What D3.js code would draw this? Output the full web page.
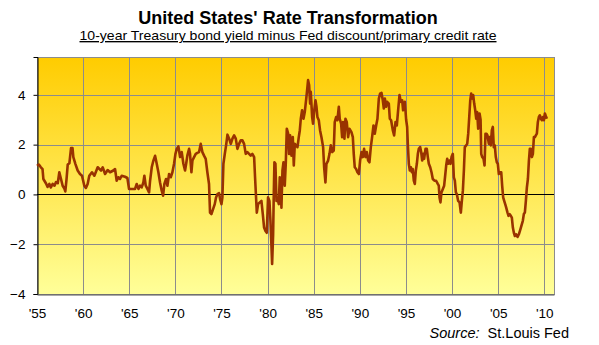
<!DOCTYPE html>
<html>
<head>
<meta charset="utf-8">
<script src="https://cdn.jsdelivr.net/npm/d3@7"></script>
<style>
	body { margin: 0; background: #fff; }
	text { font-family: "Liberation Sans", Arial, sans-serif; }
</style>
</head>
<body>
<svg id="chart" width="599" height="345"></svg>
<script>
// Spread: 10-year Treasury yield minus Fed discount / primary credit rate
const years = [
	1955.0, 1955.2, 1955.4, 1955.6, 1955.69, 1955.98, 1956.15, 1956.34, 1956.5, 1956.7, 1956.9,
	1957.06, 1957.25, 1957.42, 1957.6, 1957.78, 1957.95, 1958.07, 1958.2, 1958.33, 1958.51, 1958.69,
	1958.85, 1958.94, 1959.16, 1959.41, 1959.66, 1959.88, 1960.13, 1960.3, 1960.49, 1960.67, 1960.96,
	1961.22, 1961.58, 1961.94, 1962.12, 1962.38, 1962.66, 1962.92,
	1963.28, 1963.46, 1963.64, 1963.82, 1964.0, 1964.18, 1964.54, 1964.8, 1964.98, 1965.27, 1965.63,
	1965.81, 1966.0, 1966.17, 1966.35, 1966.53, 1966.64, 1966.79, 1966.97, 1967.15, 1967.26, 1967.44,
	1967.62, 1967.8, 1967.98, 1968.16, 1968.34, 1968.52, 1968.67, 1968.81, 1968.99, 1969.14, 1969.32,
	1969.5, 1969.68, 1969.86, 1970.01, 1970.15, 1970.33, 1970.51, 1970.69, 1970.87,
	1971.05, 1971.2, 1971.3, 1971.49, 1971.59, 1971.74, 1971.85, 1972.03, 1972.21, 1972.39, 1972.57,
	1972.75, 1972.93, 1973.11, 1973.29, 1973.47, 1973.65, 1973.76, 1973.91, 1974.09, 1974.27, 1974.41,
	1974.56, 1974.74, 1974.85, 1975.0, 1975.1, 1975.21, 1975.36, 1975.5, 1975.65, 1975.83, 1976.01,
	1976.19, 1976.37, 1976.55, 1976.73, 1976.91, 1977.09, 1977.27, 1977.45, 1977.63, 1977.81, 1977.99,
	1978.17, 1978.35, 1978.54, 1978.64, 1978.83, 1978.97,
	1979.15, 1979.33, 1979.48, 1979.62, 1979.77, 1979.91, 1980.05, 1980.2, 1980.31, 1980.41, 1980.49,
	1980.6, 1980.67, 1980.74, 1980.85, 1980.96, 1981.07, 1981.21, 1981.32, 1981.43, 1981.5, 1981.61,
	1981.72, 1981.86, 1981.97, 1982.08, 1982.23, 1982.33, 1982.44, 1982.59, 1982.73, 1982.84, 1982.95,
	1983.09, 1983.24, 1983.38, 1983.49, 1983.6, 1983.74, 1983.89, 1984.03, 1984.21, 1984.32, 1984.39,
	1984.5, 1984.61, 1984.68, 1984.83, 1984.93, 1985.04, 1985.19, 1985.3, 1985.4, 1985.55, 1985.69,
	1985.84, 1986.02, 1986.13, 1986.27, 1986.38, 1986.56, 1986.71, 1986.85, 1987.0,
	1987.17, 1987.28, 1987.43, 1987.57, 1987.72, 1987.82, 1987.97, 1988.08, 1988.18, 1988.33, 1988.44,
	1988.58, 1988.73, 1988.87, 1989.09, 1989.24, 1989.34, 1989.45, 1989.6, 1989.74, 1989.89, 1990.03,
	1990.18, 1990.32, 1990.46, 1990.61, 1990.76, 1990.9, 1991.04, 1991.19, 1991.33, 1991.48, 1991.62,
	1991.77, 1991.91, 1992.06, 1992.2, 1992.35, 1992.49, 1992.6, 1992.71, 1992.85, 1992.96, 1993.14,
	1993.25, 1993.39, 1993.58, 1993.72, 1993.87, 1994.01, 1994.15, 1994.3, 1994.44, 1994.59, 1994.69,
	1994.88, 1995.02, 1995.13,
	1995.2, 1995.31, 1995.42, 1995.53, 1995.64, 1995.74, 1995.85, 1995.96, 1996.07, 1996.18, 1996.29,
	1996.39, 1996.54, 1996.65, 1996.76, 1996.87, 1996.97, 1997.12, 1997.26, 1997.37, 1997.48, 1997.63,
	1997.77, 1997.91, 1998.09, 1998.27, 1998.45, 1998.56, 1998.64, 1998.74, 1998.85, 1999.0, 1999.14,
	1999.25, 1999.36, 1999.47, 1999.58, 1999.72, 1999.83, 1999.94, 2000.08, 2000.19, 2000.3, 2000.41,
	2000.52, 2000.66, 2000.81, 2000.95, 2001.06, 2001.17, 2001.28, 2001.38, 2001.53, 2001.64, 2001.75,
	2001.86, 2001.97, 2002.07, 2002.18, 2002.29, 2002.4, 2002.51, 2002.62, 2002.72, 2002.83, 2002.98,
	2003.09, 2003.16,
	2003.27, 2003.41, 2003.52, 2003.62, 2003.73, 2003.84, 2003.99, 2004.09, 2004.2, 2004.31, 2004.42,
	2004.52, 2004.63, 2004.74, 2004.85, 2004.96, 2005.07, 2005.22, 2005.33, 2005.43, 2005.54, 2005.65,
	2005.76, 2005.87, 2006.01, 2006.12, 2006.23, 2006.37, 2006.48, 2006.59, 2006.7, 2006.81, 2006.95,
	2007.1, 2007.24, 2007.35, 2007.46, 2007.56, 2007.67, 2007.78, 2007.89, 2008.0, 2008.11, 2008.22,
	2008.33, 2008.43, 2008.54, 2008.65, 2008.76, 2008.87, 2008.98, 2009.08, 2009.19, 2009.3, 2009.41,
	2009.52, 2009.63, 2009.74, 2009.85, 2009.95, 2010.06, 2010.17, 2010.28
];
const spread = [
	1.15, 1.2, 1.1, 1.02, 0.62, 0.44, 0.3, 0.42, 0.28, 0.42, 0.35,
	0.5, 0.45, 0.89, 0.62, 0.35, 0.25, 0.12, 0.6, 1.2, 1.25, 1.86,
	1.86, 1.5, 1.23, 0.96, 0.82, 0.75, 0.35, 0.26, 0.42, 0.75, 0.89,
	0.75, 1.09, 0.96, 1.09, 0.82, 0.98, 0.89,
	0.96, 1.02, 0.55, 0.69, 0.62, 0.75, 0.71, 0.66, 0.22, 0.22, 0.22,
	0.42, 0.22, 0.35, 0.28, 0.48, 0.75, 0.35, 0.22, 0.08, 0.55, 1.09,
	1.36, 1.55, 1.23, 0.89, 0.48, 0.15, -0.05, 0.42, 0.62, 0.35, 0.82,
	0.69, 0.89, 1.23, 1.63, 1.83, 1.93, 1.5, 1.7, 1.23,
	0.96, 1.3, 1.56, 1.83, 1.63, 0.89, 1.36, 1.5, 1.63, 1.67, 1.7,
	2.03, 1.7, 1.56, 1.43, 0.89, 0.42, -0.73, -0.79, -0.59, -0.39, -0.12,
	0.01, 0.05, -0.19, -0.39, -0.12, 1.23, 1.63, 1.97, 2.4, 2.24, 2.03,
	2.24, 2.37, 2.24, 1.83, 2.03, 2.17, 2.17, 2.03, 1.63, 1.7, 1.63,
	1.56, 1.63, 1.5, 0.69, -0.73, -0.39,
	-0.32, -0.26, -0.79, -1.33, -1.47, -1.54, -0.12, -0.26, -1.06, -2.0, -2.79,
	-1.6, 0.01, 1.29, 1.23, -0.26, -0.12, -0.39, 0.69, 0.48, -0.53, 0.96,
	1.29, 0.35, 1.23, 2.64, 2.44, 1.63, 2.37, 1.56, 2.3, 1.16, 2.03,
	1.97, 1.9, 2.3, 2.57, 3.04, 3.38, 3.04, 3.31, 3.92, 4.32, 4.59,
	4.39, 3.65, 4.12, 3.11, 2.84, 3.31, 3.78, 3.52, 3.11, 2.98, 2.57,
	2.3, 1.9, 1.09, 0.48, 1.23, 1.36, 1.63, 1.97, 1.7,
	1.76, 2.91, 3.11, 2.98, 3.52, 3.04, 2.84, 2.3, 2.91, 2.24, 3.04,
	2.91, 2.3, 2.64, 2.5, 2.3, 1.63, 1.09, 1.02, 0.89, 0.82, 1.36,
	1.7, 1.5, 1.83, 1.5, 1.7, 1.36, 1.29, 1.9, 2.3, 2.77, 2.44,
	2.77, 3.04, 3.85, 4.05, 4.08, 3.78, 3.45, 3.85, 3.52, 3.72, 3.65,
	3.04, 2.98, 2.57, 2.37, 2.91, 2.77, 3.38, 3.99, 3.72, 3.78, 3.38,
	3.72, 3.0, 2.71,
	2.03, 1.23, 0.96, 1.09, 0.89, 1.02, 0.55, 0.42, 0.96, 1.23, 1.63,
	1.83, 1.9, 1.7, 1.36, 1.63, 1.43, 1.83, 1.83, 1.5, 1.23, 1.09,
	0.89, 0.62, 0.55, 0.55, 0.42, 0.35, -0.12, -0.32, 0.08, 0.22, 0.35,
	0.75, 1.16, 1.43, 1.23, 1.36, 1.23, 1.5, 1.63, 0.69, 0.55, 0.08,
	0.01, -0.26, -0.32, -0.73, -0.26, 0.15, 0.96, 1.9, 1.97, 2.03, 2.44,
	3.11, 3.78, 4.05, 3.85, 3.99, 3.65, 3.38, 3.04, 3.31, 2.64, 3.25,
	3.0, 1.63,
	1.5, 1.43, 1.16, 2.44, 2.44, 2.37, 2.03, 2.3, 1.97, 2.57, 2.71,
	1.9, 1.97, 1.5, 1.29, 1.23, 0.82, 0.89, 0.89, 0.35, -0.12, -0.26,
	-0.39, -0.53, -0.73, -0.86, -0.79, -0.86, -0.93, -1.33, -1.54, -1.67, -1.6,
	-1.71, -1.6, -1.47, -1.33, -1.2, -1.06, -0.79, -0.73, -0.26, 0.28, 0.62,
	1.36, 1.83, 1.83, 1.5, 1.63, 2.3, 2.3, 2.37, 2.44, 2.91, 3.11,
	3.18, 3.04, 2.98, 3.11, 2.98, 3.25, 3.14, 3.04
];
const tickYears = [1955, 1960, 1965, 1970, 1975, 1980, 1985, 1990, 1995, 2000, 2005, 2010];
const tickValues = [-4, -2, 0, 2, 4];

const svg = d3.select("#chart");
const plot = { left: 37, right: 554, top: 57, bottom: 294 };

const x = d3.scaleLinear().domain([1955, 2011.05]).range([plot.left, plot.right]);
const y = d3.scaleLinear().domain([-4, 5.52]).range([plot.bottom, plot.top]);

// background gradient of the plot area
const grad = svg.append("defs").append("linearGradient")
	.attr("id", "bg").attr("x1", 0).attr("y1", 0).attr("x2", 0).attr("y2", 1);
grad.append("stop").attr("offset", "0%").attr("stop-color", "#ffcc00");
grad.append("stop").attr("offset", "100%").attr("stop-color", "#ffff99");

svg.append("rect")
	.attr("x", plot.left).attr("y", plot.top)
	.attr("width", plot.right - plot.left).attr("height", plot.bottom - plot.top)
	.attr("fill", "url(#bg)");

// grid
svg.append("g")
	.selectAll("line")
	.data(tickValues.filter((d) => d !== 0))
	.enter()
	.append("line")
	.attr("x1", plot.left).attr("x2", plot.right)
	.attr("y1", (d) => Math.round(y(d)) + 0.5).attr("y2", (d) => Math.round(y(d)) + 0.5)
	.attr("stroke", "#8c8c8c");

svg.append("g")
	.selectAll("line")
	.data(tickYears)
	.enter()
	.append("line")
	.attr("x1", (d) => Math.round(x(d)) + 0.5).attr("x2", (d) => Math.round(x(d)) + 0.5)
	.attr("y1", plot.top).attr("y2", plot.bottom)
	.attr("stroke", "#8c8c8c");

// border
svg.append("rect")
	.attr("x", plot.left + 0.5).attr("y", plot.top + 0.5)
	.attr("width", plot.right - plot.left).attr("height", plot.bottom - plot.top)
	.attr("fill", "none").attr("stroke", "#8c8c8c");

// zero line
svg.append("line")
	.attr("x1", plot.left).attr("x2", plot.right)
	.attr("y1", Math.round(y(0)) + 0.5).attr("y2", Math.round(y(0)) + 0.5)
	.attr("stroke", "#000");

// y axis
const yAxis = d3.axisLeft(y).tickValues(tickValues).tickSize(4).tickPadding(8)
	.tickFormat(d3.format("d"));
svg.append("g")
	.attr("transform", `translate(${plot.left + 0.5},0)`)
	.call(yAxis)
	.call((g) => g.select(".domain").attr("stroke", "#000"))
	.call((g) => g.selectAll("text")
		.attr("font-family", "Liberation Sans, Arial, sans-serif")
		.attr("font-size", 13.5).attr("fill", "#000"));

// x axis
const xAxis = d3.axisBottom(x).tickValues(tickYears).tickSize(0).tickPadding(14)
	.tickFormat((d) => "'" + String(d).slice(2));
svg.append("g")
	.attr("transform", `translate(0,${plot.bottom + 0.5})`)
	.call(xAxis)
	.call((g) => g.select(".domain").attr("stroke", "#555"))
	.call((g) => g.selectAll("text")
		.attr("font-family", "Liberation Sans, Arial, sans-serif")
		.attr("font-size", 13.5).attr("fill", "#000"));

// the series
const line = d3.line()
	.x((d, i) => x(years[i]))
	.y((d) => y(d));

svg.append("path")
	.datum(spread)
	.attr("d", line)
	.attr("fill", "none")
	.attr("stroke", "#993300")
	.attr("stroke-width", 2.6)
	.attr("stroke-linejoin", "round");

// titles
svg.append("text")
	.attr("x", 288).attr("y", 24)
	.attr("text-anchor", "middle")
	.attr("font-size", 18).attr("font-weight", "bold")
	.text("United States' Rate Transformation");

svg.append("text")
	.attr("x", 288).attr("y", 40)
	.attr("text-anchor", "middle")
	.attr("font-size", 13.5)
	.attr("textLength", 417).attr("lengthAdjust", "spacingAndGlyphs")
	.style("text-decoration", "underline")
	.text("10-year Treasury bond yield minus Fed discount/primary credit rate");

const src = svg.append("text")
	.attr("x", 569).attr("y", 338)
	.attr("text-anchor", "end")
	.attr("font-size", 14.5);
src.append("tspan").attr("font-style", "italic").text("Source:");
src.append("tspan").text("\u00a0 St.Louis Fed");
</script>
</body>
</html>
